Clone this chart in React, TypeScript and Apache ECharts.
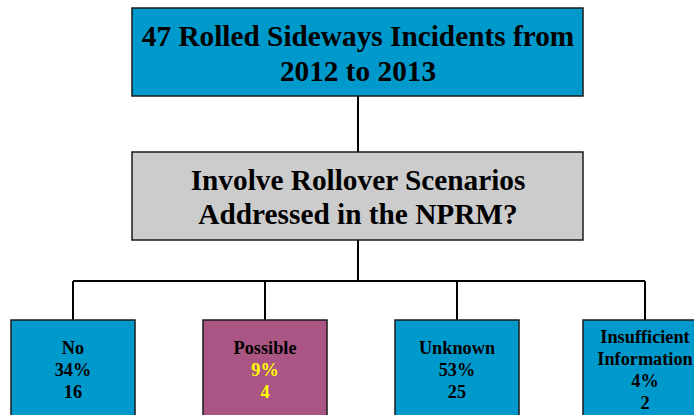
import React, { useEffect, useRef } from "react";
import * as echarts from "echarts";

const titleLines = ["47 Rolled Sideways Incidents from", "2012 to 2013"];
const questionLines = ["Involve Rollover Scenarios", "Addressed in the NPRM?"];
const categories = ["No", "Possible", "Unknown", "Insufficient\nInformation"];
const counts = [16, 4, 25, 2];
const percents = [34, 9, 53, 4];
const boxColors = ["#0099cc", "#aa5583", "#0099cc", "#0099cc"];
const valueColors = ["#000000", "#ffff00", "#000000", "#000000"];

const FONT = "Liberation Serif";

export default function App() {
  const ref = useRef<HTMLDivElement>(null);
  useEffect(() => {
    document.body.style.margin = "0";
    const chart = echarts.init(ref.current!, null, { renderer: "svg" });
    const elements: any[] = [];
    const stroke = "#1a1a1a";

    const textLine = (txt: string, x: number, y: number, size: number, color: string) => ({
      type: "text",
      x,
      y,
      style: {
        text: txt,
        fill: color,
        fontFamily: FONT,
        fontWeight: "bold",
        fontSize: size,
        textAlign: "center",
        textVerticalAlign: "middle",
      },
    });

    // connectors
    const lineStyle = { stroke: "#000", lineWidth: 2 };
    const cx = 358;
    elements.push({ type: "line", shape: { x1: cx, y1: 96, x2: cx, y2: 152 }, style: lineStyle });
    elements.push({ type: "line", shape: { x1: cx, y1: 240, x2: cx, y2: 281 }, style: lineStyle });

    const boxLeft = [11, 203, 395, 583];
    const boxW = 124;
    const centers = boxLeft.map((l) => l + boxW / 2);
    elements.push({
      type: "line",
      shape: { x1: centers[0], y1: 281, x2: centers[centers.length - 1], y2: 281 },
      style: lineStyle,
    });
    centers.forEach((c) => {
      elements.push({ type: "line", shape: { x1: c, y1: 281, x2: c, y2: 320 }, style: lineStyle });
    });

    // top box
    elements.push({
      type: "rect",
      shape: { x: 132, y: 8, width: 451, height: 88 },
      style: { fill: "#0099cc", stroke, lineWidth: 1.5 },
    });
    titleLines.forEach((t, i) => {
      elements.push(textLine(t, cx, 36 + i * 34.5, 29.3, "#000"));
    });

    // question box
    elements.push({
      type: "rect",
      shape: { x: 132, y: 152, width: 451, height: 88 },
      style: { fill: "#cccccc", stroke, lineWidth: 1.5 },
    });
    questionLines.forEach((t, i) => {
      elements.push(textLine(t, cx, 179.5 + i * 34.7, 29.3, "#000"));
    });

    // outcome boxes
    categories.forEach((cat, k) => {
      elements.push({
        type: "rect",
        shape: { x: boxLeft[k], y: 320, width: boxW, height: 100 },
        style: { fill: boxColors[k], stroke, lineWidth: 1.5 },
      });
      const nameLines = cat.split("\n");
      const lines = [
        ...nameLines.map((n) => ({ t: n, c: "#000" })),
        { t: `${percents[k]}%`, c: valueColors[k] },
        { t: `${counts[k]}`, c: valueColors[k] },
      ];
      const n = lines.length;
      const mid = 369.5;
      const lh = 22;
      lines.forEach((ln, i) => {
        elements.push(textLine(ln.t, centers[k], mid + (i - (n - 1) / 2) * lh, 18.3, ln.c));
      });
    });

    chart.setOption({
      animation: false,
      backgroundColor: "#ffffff",
      graphic: { elements },
    });
    return () => chart.dispose();
  }, []);
  return <div ref={ref} style={{ width: 694, height: 415 }} />;
}
